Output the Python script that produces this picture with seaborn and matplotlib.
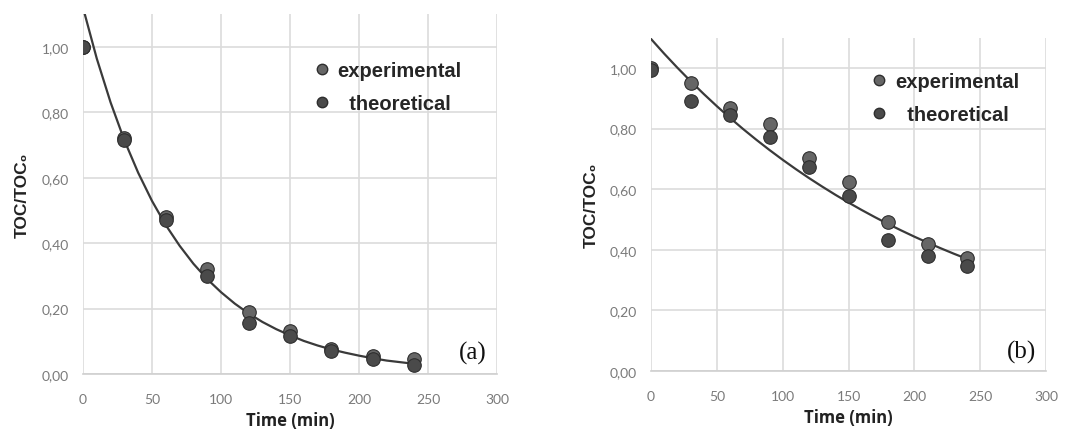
import numpy as np
import pandas as pd
import matplotlib
matplotlib.use("Agg")
import matplotlib.pyplot as plt
import seaborn as sns
from matplotlib.lines import Line2D
from matplotlib.ticker import FuncFormatter

# ---------------- data ----------------
time_points = [0, 30, 60, 90, 120, 150, 180, 210, 240]

a_experimental = [1.00, 0.72, 0.48, 0.32, 0.19, 0.13, 0.075, 0.055, 0.045]
a_theoretical = [1.00, 0.715, 0.47, 0.30, 0.155, 0.115, 0.07, 0.045, 0.028]

b_experimental = [1.00, 0.95, 0.868, 0.815, 0.703, 0.625, 0.493, 0.419, 0.372]
b_theoretical = [0.995, 0.89, 0.845, 0.771, 0.674, 0.579, 0.433, 0.381, 0.348]

curve_time = [0, 10, 20, 30, 40, 50, 60, 70, 80, 90, 100, 110, 120,
              130, 140, 150, 160, 170, 180, 190, 200, 210, 220, 230, 240]
a_curve = [1.12, 0.964, 0.830, 0.714, 0.615, 0.529, 0.455, 0.392, 0.337,
           0.290, 0.250, 0.215, 0.185, 0.159, 0.137, 0.118, 0.101, 0.087,
           0.075, 0.065, 0.056, 0.048, 0.041, 0.036, 0.031]
b_curve = [1.096, 1.0475, 1.0012, 0.9569, 0.9146, 0.8741, 0.8355, 0.7985,
           0.7632, 0.7294, 0.6971, 0.6663, 0.6368, 0.6087, 0.5817, 0.5560,
           0.5314, 0.5079, 0.4854, 0.4640, 0.4434, 0.4238, 0.4051, 0.3871,
           0.3700]

x_ticks = [0, 50, 100, 150, 200, 250, 300]
y_ticks = [0.0, 0.2, 0.4, 0.6, 0.8, 1.0]
series_labels = ["experimental", "  theoretical"]
panel_tags = ["(a)", "(b)"]

# ---------------- style ----------------
sns.set_theme(style="whitegrid")
plt.rcParams["font.family"] = ["Liberation Sans", "DejaVu Sans"]

fig = plt.figure(figsize=(10.68, 4.31), dpi=100)
ax_a = fig.add_axes([0.0777, 0.130, 0.3877, 0.835])
ax_b = fig.add_axes([0.6096, 0.137, 0.3698, 0.773])

exp_color = "#666666"
theo_color = "#4a4a4a"
edge_color = "#2e2e2e"
grid_color = "#dcdcdc"


def draw_panel(ax, exp_vals, theo_vals, curve_vals, tag, leg_anchor, ylabel_x):
    df = pd.DataFrame({"t": time_points, "exp": exp_vals, "theo": theo_vals})
    dfc = pd.DataFrame({"t": curve_time, "y": curve_vals})
    sns.lineplot(data=dfc, x="t", y="y", ax=ax, color="#3a3a3a", lw=1.6,
                 zorder=2, legend=False)
    sns.scatterplot(data=df, x="t", y="exp", ax=ax, s=95, color=exp_color,
                    edgecolor=edge_color, linewidth=0.8, zorder=3, legend=False)
    sns.scatterplot(data=df, x="t", y="theo", ax=ax, s=95, color=theo_color,
                    edgecolor=edge_color, linewidth=0.8, zorder=3, legend=False)
    ax.set_xlim(0, 300)
    ax.set_ylim(0, 1.1)
    ax.set_xticks(x_ticks)
    ax.set_yticks(y_ticks)
    ax.yaxis.set_major_formatter(FuncFormatter(lambda v, p: f"{v:.2f}".replace(".", ",")))
    ax.grid(True, color=grid_color, lw=1.2)
    for side in ["top", "left", "right"]:
        ax.spines[side].set_visible(False)
    ax.spines["bottom"].set_color("#cfcfcf")
    ax.spines["bottom"].set_linewidth(1.2)
    ax.tick_params(axis="x", length=0, labelsize=10, labelcolor="#7a7a7a", pad=14)
    ax.tick_params(axis="y", length=0, labelsize=10, labelcolor="#7a7a7a", pad=10)
    for lab in ax.get_xticklabels() + ax.get_yticklabels():
        lab.set_family(["Lato", "DejaVu Sans"])
    ax.set_xlabel("Time (min)", fontsize=12, fontweight="bold", color="#222222",
                  family=["Open Sans", "DejaVu Sans"], labelpad=4)
    ax.set_ylabel("TOC/TOC\u2080", fontsize=12.5, fontweight="bold", color="#222222",
                  family=["Liberation Sans", "DejaVu Sans"])
    ax.yaxis.set_label_coords(ylabel_x, 0.5)
    handles = [
        Line2D([], [], ls="", marker="o", ms=7.5, mfc=exp_color, mec=edge_color),
        Line2D([], [], ls="", marker="o", ms=7.5, mfc=theo_color, mec=edge_color),
    ]
    ax.legend(handles, series_labels, loc="upper left", bbox_to_anchor=leg_anchor,
              frameon=False, prop={"weight": "bold", "size": 14.5},
              labelspacing=0.7, handletextpad=0.3, handlelength=1.0,
              borderpad=0.2)
    ax.text(0.975, 0.06, tag, transform=ax.transAxes, ha="right", va="center",
            fontsize=18, family=["Liberation Serif", "DejaVu Serif"], color="#111111")


draw_panel(ax_a, a_experimental, a_theoretical, a_curve, panel_tags[0],
           (0.518, 0.91), -0.128)
draw_panel(ax_b, b_experimental, b_theoretical, b_curve, panel_tags[1],
           (0.517, 0.94), -0.132)

fig.savefig("out.png", dpi=100)
